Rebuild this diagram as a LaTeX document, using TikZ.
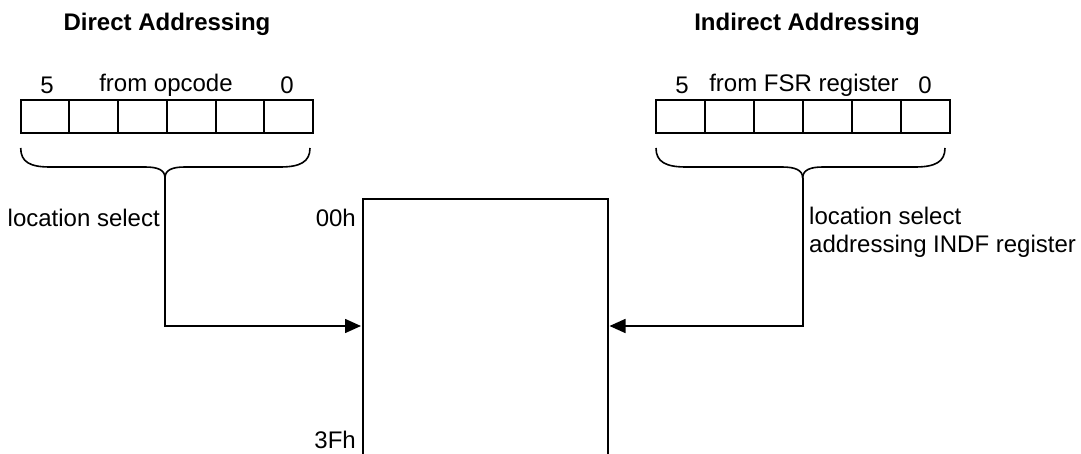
\documentclass[tikz,border=0pt]{standalone}
\usepackage{fontspec}
\setmainfont{Liberation Sans}
\usetikzlibrary{arrows.meta}
\begin{document}
\begin{tikzpicture}[x=1pt,y=-1pt,
  txt/.style={inner sep=0pt,font=\fontsize{24}{28}\selectfont},
  ttl/.style={inner sep=0pt,font=\fontsize{24}{28}\selectfont\bfseries},
  cell/.style={draw,line width=2pt,minimum width=48.7pt,minimum height=33pt,inner sep=0pt,outer sep=0pt},
  box/.style={line width=2pt},
  conn/.style={line width=1.6pt,-{Triangle[length=16pt,width=14pt]}},
  brc/.style={line width=1.6pt}]
\useasboundingbox (0,0) rectangle (1081,454);
% titles
\node[ttl] (t1) at (167,24) {Direct Addressing};
\node[ttl] (t2) at (807,24) {Indirect Addressing};
% left register
\foreach \i in {0,...,5}{
  \node[cell] (l\i) at ({20.7+24.35+48.7*\i},116.5) {};
}
\node[txt] (l5lab) at (47,85) {5};
\node[txt] (lmid) at (166,85) {from opcode};
\node[txt] (l0lab) at (287,85) {0};
% right register
\foreach \i in {0,...,5}{
  \node[cell] (r\i) at ({656+24.5+49*\i},116.5) {};
}
\node[txt] (r5lab) at (682,85) {5};
\node[txt] (rmid) at (804,85) {from FSR register};
\node[txt] (r0lab) at (925,85) {0};
% braces
\coordinate (lt) at (165,178);
\draw[brc] (20.7,148) .. controls (20.7,162) and (30,167) .. (50,167) -- (145,167)
  .. controls (158,167) and (165,170) .. (lt);
\draw[brc] (310,148) .. controls (310,162) and (300,167) .. (280,167) -- (185,167)
  .. controls (172,167) and (165,170) .. (lt);
\coordinate (rt) at (802.7,178);
\draw[brc] (656,148) .. controls (656,162) and (666,167) .. (686,167) -- (782,167)
  .. controls (795,167) and (802.7,170) .. (rt);
\draw[brc] (945,148) .. controls (945,162) and (935,167) .. (915,167) -- (823,167)
  .. controls (810,167) and (802.7,170) .. (rt);
% memory block
\draw[box] (362.7,454) -- (362.7,199.5) -- (607.5,199.5) -- (607.5,454);
\coordinate (mw) at (361,326);
\coordinate (me) at (609.5,326);
\node[txt,anchor=east] (a00) at (356,218) {00h};
\node[txt,anchor=east] (a3f) at (356,440) {3Fh};
% labels
\node[txt,anchor=east] (lsel) at (160,218) {location select};
\node[txt,anchor=west,align=left] (rsel) at (809,232) {location select\\addressing INDF register};
% connectors
\draw[conn] (lt) |- (mw);
\draw[conn] (rt) |- (me);
\end{tikzpicture}
\end{document}
